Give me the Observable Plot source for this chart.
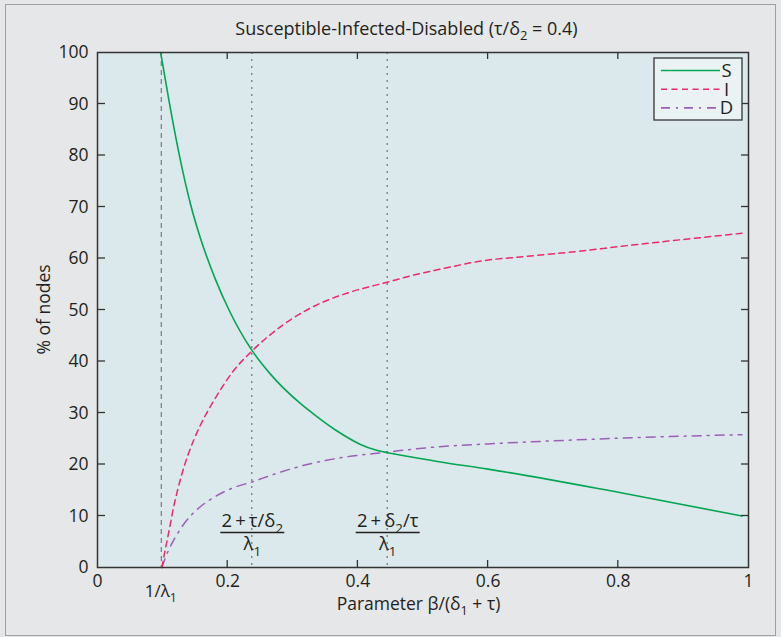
<!DOCTYPE html>
<html><head><meta charset="utf-8">
<script src="https://cdn.jsdelivr.net/npm/d3@7"></script>
<script src="https://cdn.jsdelivr.net/npm/@observablehq/plot@0.6"></script>
<style>
html,body{margin:0;padding:0;background:#fff;}
#wrap{position:relative;width:781px;height:637px;background:#e6e7e8;overflow:hidden;}
#wrap svg{position:absolute;left:0;top:0;}
#border{position:absolute;left:5px;top:4px;width:771px;height:632px;border:1px solid #a0a0a0;box-sizing:border-box;pointer-events:none;}
</style></head><body><div id="wrap"><div id="border"></div></div>
<script>
// ---- data ----
const seriesNames = ["S", "I", "D"];
const seriesColors = ["#00a651", "#ec2a6a", "#9b5fb5"];
const seriesDashes = [null, "6,4.5", "9,6,2,6"];

// S: curved part up to the (2+δ2/τ)/λ1 line, then a straight part
const sX = [0.097, 0.11, 0.125, 0.143, 0.158, 0.181, 0.202, 0.237, 0.266, 0.312, 0.335, 0.368, 0.404, 0.425, 0.445];
const sY = [100, 90.5, 80.5, 70.5, 64, 56, 50, 42.2, 37.5, 31.8, 29.5, 26.5, 23.9, 22.9, 22.3];
const sTailX = [0.445, 0.527, 0.6, 0.8, 0.99];
const sTailY = [22.3, 20.5, 19.1, 14.6, 10.0];

const iX = [0.099, 0.103, 0.107, 0.112, 0.117, 0.123, 0.13, 0.148, 0.158, 0.184, 0.209, 0.237, 0.286, 0.337, 0.389, 0.445, 0.486, 0.537, 0.575, 0.6, 0.64, 0.69, 0.74, 0.8, 0.9, 0.99];
const iY = [0, 2.8, 5.3, 8.5, 11.8, 15.0, 18.3, 24.8, 27.6, 33.5, 38.2, 42.0, 47.2, 51.0, 53.5, 55.4, 56.8, 58.2, 59.2, 59.7, 60.2, 60.8, 61.4, 62.3, 63.7, 64.9];

const dX = [0.099, 0.104, 0.11, 0.117, 0.125, 0.133, 0.145, 0.158, 0.184, 0.209, 0.237, 0.271, 0.322, 0.373, 0.445, 0.519, 0.6, 0.7, 0.8, 0.9, 0.99];
const dY = [0, 1.8, 3.6, 5.3, 7.0, 8.5, 10.3, 11.8, 14.0, 15.5, 16.6, 18.1, 20.0, 21.3, 22.4, 23.4, 24.0, 24.6, 25.1, 25.5, 25.8];

const xTicks = [0, 0.2, 0.4, 0.6, 0.8, 1];
const xTickLabels = ["0", "0.2", "0.4", "0.6", "0.8", "1"];
const yTicks = [0, 10, 20, 30, 40, 50, 60, 70, 80, 90, 100];
const yTickLabels = ["0", "10", "20", "30", "40", "50", "60", "70", "80", "90", "100"];

const markerX = [0.098, 0.237, 0.445];           // 1/λ1, (2+τ/δ2)/λ1, (2+δ2/τ)/λ1
const markerStyles = ["5,4", "2,5", "2,5"];

const titleSegs = ["Susceptible-Infected-Disabled (τ/δ", {sub: "2"}, " = 0.4)"];
const xLabelSegs = ["Parameter β/(δ", {sub: "1"}, " + τ)"];
const yLabelText = "% of nodes";
const markerBelowSegs = ["1/λ", {sub: "1"}];
const fracNumerators = [["2\u2009+\u2009τ/δ", {sub: "2"}], ["2\u2009+\u2009δ", {sub: "2"}, "/τ"]];
const fracDenominator = ["λ", {sub: "1"}];

// ---- build tables ----
const toRows = (xs, ys) => xs.map((x, i) => ({x, y: ys[i]}));
const FONT = "'Open Sans', 'Noto Sans', sans-serif";

function rich(parent, segs, fs, attrs) {
  const t = parent.append("text").attr("font-size", fs);
  for (const [k, v] of Object.entries(attrs)) t.attr(k, v);
  let down = false;
  for (const s of segs) {
    if (typeof s === "string") {
      t.append("tspan").attr("dy", down ? -fs * 0.3 : 0).text(s);
      down = false;
    } else {
      t.append("tspan").attr("font-size", fs * 0.72).attr("dy", fs * 0.3).text(s.sub);
      down = true;
    }
  }
  return t;
}

function decorations(index, scales, values, dims) {
  const {x, y} = scales;
  const {width, height, marginLeft, marginRight, marginTop, marginBottom} = dims;
  const L = marginLeft, R = width - marginRight, T = marginTop, B = height - marginBottom;
  const g = d3.create("svg:g").attr("font-family", FONT).attr("fill", "#231f20");
  const tl = 7;
  for (const v of xTicks.slice(1, -1)) {
    g.append("line").attr("x1", x(v)).attr("x2", x(v)).attr("y1", B).attr("y2", B - tl).attr("stroke", "#333").attr("stroke-width", 1.3);
    g.append("line").attr("x1", x(v)).attr("x2", x(v)).attr("y1", T).attr("y2", T + tl).attr("stroke", "#333").attr("stroke-width", 1.3);
  }
  for (const v of yTicks.slice(1, -1)) {
    g.append("line").attr("y1", y(v)).attr("y2", y(v)).attr("x1", L).attr("x2", L + tl + 1).attr("stroke", "#333").attr("stroke-width", 1.3);
    g.append("line").attr("y1", y(v)).attr("y2", y(v)).attr("x1", R).attr("x2", R - tl).attr("stroke", "#333").attr("stroke-width", 1.3);
  }
  rich(g, titleSegs, 18, {x: (L + R) / 2 - 16, y: T - 17, "text-anchor": "middle"});
  rich(g, xLabelSegs, 17.5, {x: (L + R) / 2 - 4, y: B + 43, "text-anchor": "middle"});
  g.append("text").attr("font-size", 17.5).attr("text-anchor", "middle")
    .attr("transform", `translate(${L - 47},${(T + B) / 2}) rotate(-90)`).text(yLabelText);
  rich(g, markerBelowSegs, 17, {x: x(markerX[0]), y: B + 30, "text-anchor": "middle"});
  fracNumerators.forEach((segs, i) => {
    const cx = x(markerX[i + 1]) + 1;
    rich(g, segs, 18.5, {x: cx, y: B - 40, "text-anchor": "middle"});
    g.append("line").attr("x1", cx - 32).attr("x2", cx + 32).attr("y1", B - 34.5).attr("y2", B - 34.5)
      .attr("stroke", "#231f20").attr("stroke-width", 1.4);
    rich(g, fracDenominator, 18.5, {x: cx, y: B - 17, "text-anchor": "middle"});
  });
  // legend
  const lw = 88, lh = 62, lx = R - 94, ly = T + 6;
  g.append("rect").attr("x", lx).attr("y", ly).attr("width", lw).attr("height", lh)
    .attr("fill", "#eaf2f4").attr("stroke", "#333").attr("stroke-width", 1.3);
  const legendText = g.append("text").attr("font-size", 18.5);
  seriesNames.forEach((name, i) => {
    const yy = ly + 12.5 + i * 18.7;
    g.append("line").attr("x1", lx + 7).attr("x2", lx + 66).attr("y1", yy).attr("y2", yy)
      .attr("stroke", seriesColors[i]).attr("stroke-width", 1.6).attr("stroke-dasharray", seriesDashes[i]);
    legendText.append("tspan").attr("x", lx + 72.5).attr("y", yy + 6.5).text(name);
  });
  return g.node();
}

const plot = Plot.plot({
  width: 781, height: 637,
  marginLeft: 97, marginRight: 33, marginTop: 52, marginBottom: 70,
  style: {background: "transparent", fontFamily: FONT, fontSize: "17.5px", color: "#231f20"},
  x: {domain: [0, 1]},
  y: {domain: [0, 100]},
  marks: [
    Plot.frame({fill: "#dce9ec", stroke: null}),
    Plot.ruleX([markerX[0]], {stroke: "#7a7a7a", strokeWidth: 1.2, strokeDasharray: markerStyles[0]}),
    Plot.ruleX(markerX.slice(1), {stroke: "#7a7a7a", strokeWidth: 1.3, strokeDasharray: markerStyles[1]}),
    Plot.line(toRows(dX, dY), {x: "x", y: "y", stroke: seriesColors[2], strokeWidth: 1.5, strokeDasharray: seriesDashes[2], curve: "monotone-x"}),
    Plot.line(toRows(iX, iY), {x: "x", y: "y", stroke: seriesColors[1], strokeWidth: 1.5, strokeDasharray: seriesDashes[1], curve: "monotone-x"}),
    Plot.line(toRows(sX, sY), {x: "x", y: "y", stroke: seriesColors[0], strokeWidth: 1.6, curve: "monotone-x"}),
    Plot.line(toRows(sTailX, sTailY), {x: "x", y: "y", stroke: seriesColors[0], strokeWidth: 1.6, curve: "monotone-x"}),
    Plot.axisX(xTicks, {tickSize: 0, tickPadding: 7, tickFormat: d => xTickLabels[xTicks.indexOf(d)], label: null, fontSize: 17.5}),
    Plot.axisY(yTicks, {tickSize: 0, tickPadding: 9, tickFormat: d => yTickLabels[yTicks.indexOf(d)], label: null, fontSize: 17.5}),
    Plot.frame({stroke: "#333", strokeWidth: 1.5}),
    decorations
  ]
});
document.getElementById("wrap").appendChild(plot);
</script>
</body></html>
